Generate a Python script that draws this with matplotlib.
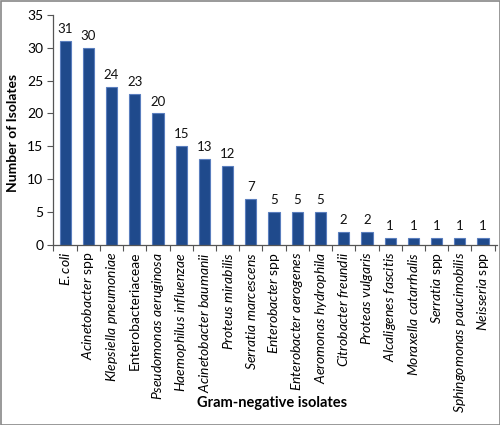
import matplotlib
matplotlib.use("Agg")
import matplotlib.pyplot as plt
import numpy as np

# ── Data ──────────────────────────────────────────────────────────────────────
isolates = [
    r"$\mathit{E. coli}$",
    r"$\mathit{Acinetobacter}$ spp",
    r"$\mathit{Klepsiella\ pneumoniae}$",
    "Enterobacteriaceae",
    r"$\mathit{Pseudomonas\ aeruginosa}$",
    r"$\mathit{Haemophilus\ influenzae}$",
    r"$\mathit{Acinetobacter\ baumanii}$",
    r"$\mathit{Proteus\ mirabilis}$",
    r"$\mathit{Serratia\ marcescens}$",
    r"$\mathit{Enterobacter}$ spp",
    r"$\mathit{Enterobacter\ aerogenes}$",
    r"$\mathit{Aeromonas\ hydrophila}$",
    r"$\mathit{Citrobacter\ freundii}$",
    r"$\mathit{Proteas\ vulgaris}$",
    r"$\mathit{Alcaligenes\ fascitis}$",
    r"$\mathit{Moraxella\ catarrhalis}$",
    r"$\mathit{Serratia}$ spp",
    r"$\mathit{Sphingomonas\ paucimobilis}$",
    r"$\mathit{Neisseria}$ spp",
]
counts = [31, 30, 24, 23, 20, 15, 13, 12, 7, 5, 5, 5, 2, 2, 1, 1, 1, 1, 1]
y_ticks = [0, 5, 10, 15, 20, 25, 30, 35]

# ── Style ─────────────────────────────────────────────────────────────────────
plt.rcParams["font.family"] = ["Lato", "DejaVu Sans"]
plt.rcParams["mathtext.fontset"] = "custom"
plt.rcParams["mathtext.rm"] = "Lato"
plt.rcParams["mathtext.it"] = "Lato:italic"
plt.rcParams["mathtext.bf"] = "Lato:bold"

BAR_COLOR = "#1F4A8C"
EDGE_COLOR = "#5A7EBE"
AXIS_COLOR = "#555555"

fig = plt.figure(figsize=(5, 4.25), dpi=100)
ax = fig.add_axes([0.106, 0.424, 0.888, 0.541])

x = np.arange(len(counts))
ax.bar(x, counts, width=0.48, color=BAR_COLOR, edgecolor=EDGE_COLOR, linewidth=0.8)

for xi, c in zip(x, counts):
    ax.text(xi, c + 0.9, str(c), ha="center", va="bottom", fontsize=9.5, color="#111111")

ax.set_xlim(-0.52, len(counts) - 0.4)
ax.set_ylim(0, 35)
ax.set_yticks(y_ticks)
ax.tick_params(axis="y", labelsize=10, length=4, color=AXIS_COLOR, pad=3)

# ticks at category boundaries, labels at centres
ax.set_xticks(np.arange(-0.5, len(counts), 1.0))
ax.set_xticklabels([])
ax.set_xticks(x, minor=True)
ax.set_xticklabels(isolates, minor=True, rotation=90, fontsize=10)
ax.tick_params(axis="x", which="major", length=4, color=AXIS_COLOR)
ax.tick_params(axis="x", which="minor", length=0, pad=5)

for side in ("top", "right"):
    ax.spines[side].set_visible(False)
for side in ("left", "bottom"):
    ax.spines[side].set_color(AXIS_COLOR)
    ax.spines[side].set_linewidth(0.9)

fig.text(0.026, 0.687, "Number of Isolates", rotation=90, ha="center", va="center",
         fontsize=10, fontweight="bold")
fig.text(0.545, 0.052, "Gram-negative isolates", ha="center", va="center",
         fontsize=10.5, fontweight="bold")

# grey frame round the whole figure
fig.patches.append(plt.Rectangle((0.001, 0.001), 0.998, 0.997, transform=fig.transFigure,
                                 fill=False, edgecolor="#888888", linewidth=1.2))

fig.savefig("out.png", dpi=100)
